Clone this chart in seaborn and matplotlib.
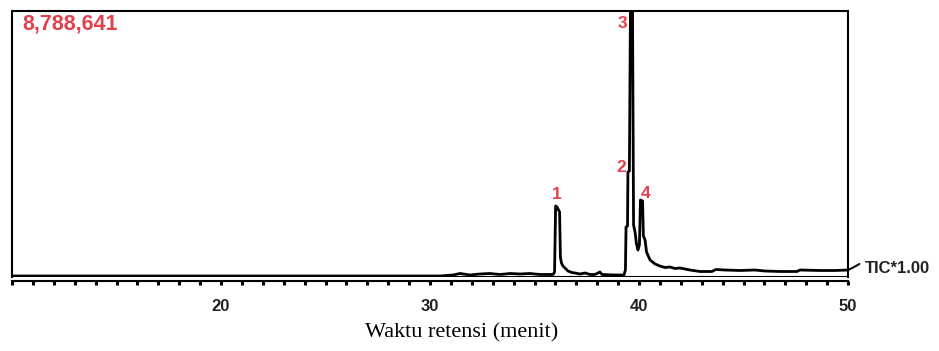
import seaborn as sns
import matplotlib.pyplot as plt
from matplotlib.ticker import FixedLocator, MultipleLocator


# ---------- DATA ---------- #

retention_time = [
    10.00, 29.52, 30.48, 31.10, 31.44, 31.91, 32.39, 32.87, 33.35, 33.83,
    34.31, 34.78, 35.26, 35.89, 35.96, 36.01, 36.08, 36.15, 36.20, 36.24,
    36.29, 36.36, 36.46, 36.60, 36.79, 36.94, 37.18, 37.42, 37.66, 37.89,
    38.13, 38.23, 38.85, 39.28, 39.35, 39.38, 39.45, 39.47, 39.54, 39.59,
    39.69, 39.74, 39.81, 39.88, 39.95, 40.02, 40.07, 40.17, 40.21, 40.29,
    40.36, 40.53, 40.77, 41.00, 41.24, 41.48, 41.72, 41.96, 42.20, 42.44,
    42.92, 43.49, 43.68, 44.11, 44.83, 45.55, 46.03, 46.75, 47.56, 47.70,
    48.66, 49.38, 50.00,
]
intensity = [
    33000, 33000, 33000, 66000, 116000, 66000, 99000, 116000, 83000, 116000,
    99000, 116000, 83000, 83000, 165000, 2346000, 2313000, 2214000, 2148000, 661000,
    463000, 363000, 297000, 198000, 149000, 132000, 99000, 132000, 83000, 83000,
    165000, 83000, 66000, 66000, 231000, 1652000, 1685000, 3469000, 3502000, 8788641,
    8788641, 1718000, 1487000, 1090000, 892000, 1057000, 2544000, 2511000, 1355000, 1222000,
    826000, 562000, 430000, 363000, 314000, 330000, 281000, 297000, 264000, 231000,
    182000, 182000, 248000, 231000, 215000, 231000, 198000, 182000, 182000, 231000,
    215000, 215000, 231000,
]

max_label = "8,788,641"
peak_names = ["1", "2", "3", "4"]
peak_label_x = [36.08, 39.13, 39.22, 40.30]
peak_label_y = [2740000, 3620000, 8370000, 2760000]

major_ticks = [20, 30, 40, 50]
x_label = "Waktu retensi (menit)"
tic_label = "TIC*1.00"

RED = "#e0414d"


# ---------- PLOT ---------- #

sns.set_style("white")
plt.rcParams['font.family'] = ['Liberation Sans', 'DejaVu Sans']

fig = plt.figure(figsize=(9.39, 3.51), dpi=100)
ax = fig.add_axes([12 / 939, 1 - 277 / 351, 836 / 939, 266 / 351])

sns.lineplot(x=retention_time, y=intensity, ax=ax, color="black",
             linewidth=2.0, estimator=None, sort=False)

ax.set_xlim(10, 50)
ax.set_ylim(0, 8788641)

# frame
for side in ["top", "left", "right", "bottom"]:
    ax.spines[side].set_visible(True)
    ax.spines[side].set_color("black")
    ax.spines[side].set_linewidth(1.5)
ax.spines["bottom"].set_position(("outward", 3))
ax.axhline(0, color="black", linewidth=1.5)

ax.set_yticks([])
ax.xaxis.set_major_locator(FixedLocator(major_ticks))
ax.xaxis.set_minor_locator(MultipleLocator(1))
ax.tick_params(axis="x", which="both", direction="out", length=3, width=2.2,
               color="black", bottom=True)
ax.tick_params(axis="x", which="major", pad=10, labelsize=12)
for lbl in ax.get_xticklabels():
    lbl.set_fontweight("bold")
    lbl.set_color("#222222")

# labels
ax.text(0.012, 0.951, max_label, transform=ax.transAxes, color=RED,
        fontsize=15.5, fontweight="bold", ha="left", va="center")
for name, px, py in zip(peak_names, peak_label_x, peak_label_y):
    ax.text(px, py, name, color=RED, fontsize=12.5, fontweight="bold",
            ha="center", va="center")

ax.plot([50.0, 50.2, 50.55], [231000, 297000, 430000], color="black",
        linewidth=1.4, clip_on=False)
ax.text(50.81, 297000, tic_label, color="#222222", fontsize=12,
        fontweight="bold", ha="left", va="center", clip_on=False)

fig.text(0.492, 1 - 337 / 351, x_label, family=["Liberation Serif"],
         fontsize=16, ha="center", va="baseline", color="black")

fig.savefig("out.png", dpi=100)
plt.close(fig)
